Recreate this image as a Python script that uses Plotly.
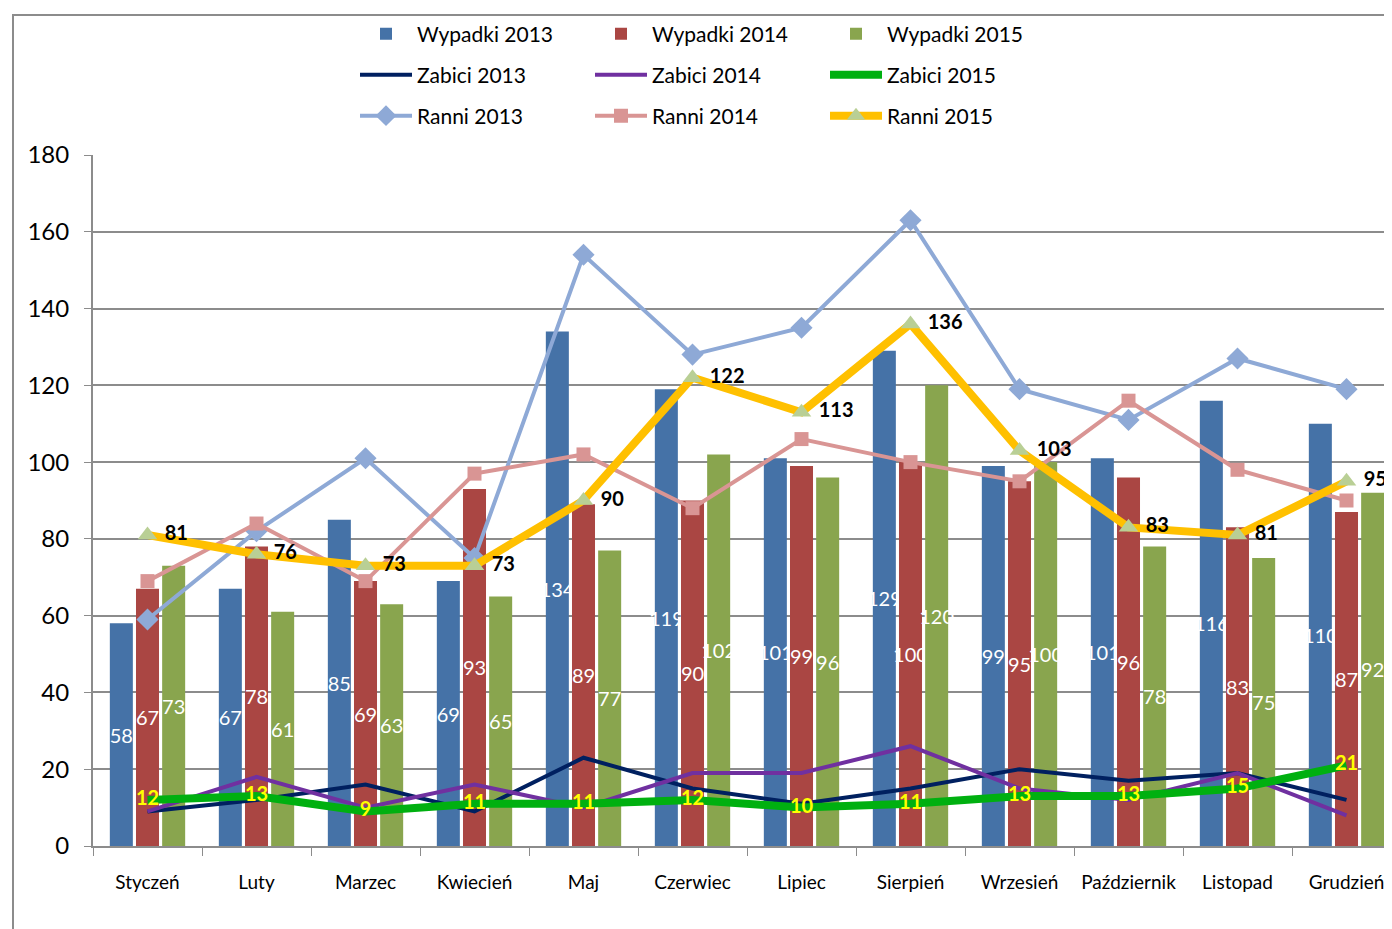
import plotly.graph_objects as go

months = ["Styczeń", "Luty", "Marzec", "Kwiecień", "Maj", "Czerwiec", "Lipiec",
          "Sierpień", "Wrzesień", "Październik", "Listopad", "Grudzień"]

wypadki_2013 = [58, 67, 85, 69, 134, 119, 101, 129, 99, 101, 116, 110]
wypadki_2014 = [67, 78, 69, 93, 89, 90, 99, 100, 95, 96, 83, 87]
wypadki_2015 = [73, 61, 63, 65, 77, 102, 96, 120, 100, 78, 75, 92]

zabici_2013 = [9, 12, 16, 9, 23, 15, 11, 15, 20, 17, 19, 12]
zabici_2014 = [9, 18, 10, 16, 10, 19, 19, 26, 15, 12, 19, 8]
zabici_2015 = [12, 13, 9, 11, 11, 12, 10, 11, 13, 13, 15, 21]

ranni_2013 = [59, 82, 101, 75, 154, 128, 135, 163, 119, 111, 127, 119]
ranni_2014 = [69, 84, 69, 97, 102, 88, 106, 100, 95, 116, 98, 90]
ranni_2015 = [81, 76, 73, 73, 90, 122, 113, 136, 103, 83, 81, 95]

y_ticks = [0, 20, 40, 60, 80, 100, 120, 140, 160, 180]

FONT = "Lato, 'Open Sans', sans-serif"
GRID = "#8c8c8c"

fig = go.Figure()

bar_specs = [
    ("Wypadki 2013", wypadki_2013, "#4572A7"),
    ("Wypadki 2014", wypadki_2014, "#AA4643"),
    ("Wypadki 2015", wypadki_2015, "#89A54E"),
]
for name, vals, col in bar_specs:
    fig.add_trace(go.Bar(
        name=name, x=months, y=vals, marker=dict(color=col, line=dict(width=0)),
        text=[str(v) for v in vals], textposition="inside", insidetextanchor="middle",
        textangle=0, constraintext="none",
        textfont=dict(color="white", size=20, family=FONT),
        legend="legend",
    ))

fig.add_trace(go.Scatter(name="Zabici 2013", x=months, y=zabici_2013, mode="lines",
                         line=dict(color="#002060", width=4), legend="legend2"))
fig.add_trace(go.Scatter(name="Zabici 2014", x=months, y=zabici_2014, mode="lines",
                         line=dict(color="#7030A0", width=4), legend="legend2"))
fig.add_trace(go.Scatter(name="Zabici 2015", x=months, y=zabici_2015, mode="lines+text",
                         line=dict(color="#00B010", width=8),
                         text=[str(v) for v in zabici_2015], textposition="middle center",
                         textfont=dict(color="#FFFF00", size=20, family=FONT, weight="bold"),
                         legend="legend2"))

fig.add_trace(go.Scatter(name="Ranni 2013", x=months, y=ranni_2013, mode="lines+markers",
                         line=dict(color="#8EA9D6", width=4),
                         marker=dict(symbol="diamond", size=17, color="#8EA9D6"),
                         legend="legend3"))
fig.add_trace(go.Scatter(name="Ranni 2014", x=months, y=ranni_2014, mode="lines+markers",
                         line=dict(color="#D99594", width=4),
                         marker=dict(symbol="square", size=14, color="#D99594"),
                         legend="legend3"))
fig.add_trace(go.Scatter(name="Ranni 2015", x=months, y=ranni_2015, mode="lines+markers",
                         line=dict(color="#FFC000", width=8),
                         marker=dict(symbol="triangle-up", size=17, color="#B9CF95"),
                         legend="legend3"))
fig.add_trace(go.Scatter(x=months, y=ranni_2015, mode="markers+text", showlegend=False,
                         hoverinfo="skip", marker=dict(size=26, opacity=0), cliponaxis=False,
                         text=[str(v) for v in ranni_2015], textposition="middle right",
                         textfont=dict(color="black", size=20, family=FONT, weight="bold")))

# The page is shown with an 8px body margin, so the figure is sized to fit.
OFF = 8
W, H = 1392 - OFF, 929 - OFF
plot_l = 93 - OFF
plot_t = 155 - OFF
plot_b = H - (846 - OFF)
plot_w = W - plot_l
plot_h = H - plot_t - plot_b


def py(px):
    return ((846 - OFF) - (px - OFF)) / plot_h


def pxx(px):
    return (px - 93) / plot_w


legend_common = dict(orientation="h", xanchor="left", yanchor="middle",
                     font=dict(size=21, family=FONT, color="black"),
                     entrywidth=168, bgcolor="rgba(0,0,0,0)", itemwidth=52,
                     tracegroupgap=0)

fig.update_layout(
    width=W, height=H,
    margin=dict(l=plot_l, r=0, t=plot_t, b=plot_b),
    paper_bgcolor="white", plot_bgcolor="white",
    barmode="group", bargap=0.28, bargroupgap=0.12,
    font=dict(family=FONT, color="black"),
    legend=dict(x=pxx(355), y=py(34), **legend_common),
    legend2=dict(x=pxx(355), y=py(75), **legend_common),
    legend3=dict(x=pxx(355), y=py(116), **legend_common),
    xaxis=dict(type="category", range=[-0.5, 11.5 - 9 / 109],
               showline=True, linecolor=GRID, linewidth=2,
               ticks="outside", tickson="boundaries", ticklen=8, tickcolor=GRID,
               tickfont=dict(size=19, family=FONT, color="black"),
               ticklabelstandoff=18, showgrid=False),
    yaxis=dict(range=[0, 180], tickvals=y_ticks, showline=True, linecolor=GRID,
               linewidth=2, ticks="outside", ticklen=7, tickcolor=GRID,
               showgrid=True, gridcolor=GRID, gridwidth=1.5, zeroline=False,
               tickfont=dict(size=24, family=FONT, color="black"),
               ticklabelstandoff=10),
    shapes=[dict(type="rect", xref="paper", yref="paper",
                 x0=pxx(13), x1=1.05, y0=-0.3, y1=py(15),
                 line=dict(color="#8c8c8c", width=2), layer="below")],
    showlegend=True,
)

fig.write_html("out.html")
